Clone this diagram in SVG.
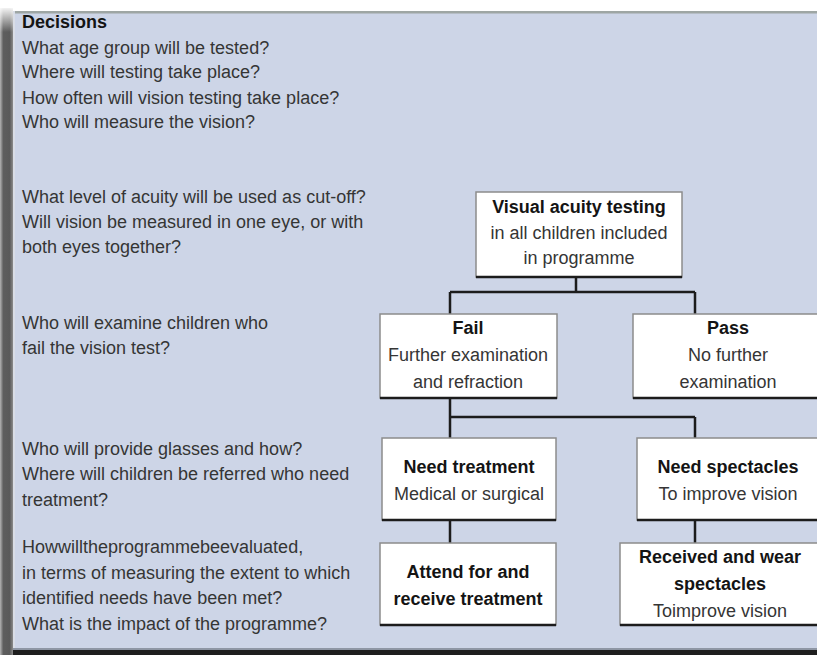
<svg xmlns="http://www.w3.org/2000/svg" width="817" height="655" viewBox="0 0 817 655">
<defs>
<linearGradient id="shadowH" x1="0" y1="0" x2="1" y2="0">
<stop offset="0" stop-color="#b5b5b5"/>
<stop offset="0.25" stop-color="#5e5e5e"/>
<stop offset="0.75" stop-color="#5a5a5a"/>
<stop offset="1" stop-color="#8c8c8c"/>
</linearGradient>
<linearGradient id="fadeTop" x1="0" y1="0" x2="0" y2="1">
<stop offset="0" stop-color="#ffffff" stop-opacity="1"/>
<stop offset="1" stop-color="#ffffff" stop-opacity="0"/>
</linearGradient>
</defs>
<style>
text{font-family:"Liberation Sans",Arial,sans-serif;font-size:18px;fill:#353535}
.b{font-weight:bold;fill:#141414}
.c{text-anchor:middle}
.box{fill:#ffffff;stroke:#8c8c8c;stroke-width:1.5}
.sh{stroke:#1c1c1c;stroke-width:2.5;fill:none}
.con{stroke:#1c1c1c;stroke-width:2.5;fill:none}
</style>
<rect width="817" height="655" fill="#ffffff"/>
<rect x="0" y="8" width="13" height="647" fill="url(#shadowH)"/>
<rect x="0" y="6" width="13" height="26" fill="url(#fadeTop)"/>
<rect x="13" y="11" width="810" height="641" fill="#cdd5e7"/>
<rect x="13" y="11" width="810" height="2.5" fill="#9ea6a4"/>
<rect x="13" y="11" width="2" height="641" fill="#d9dde6"/>
<rect x="13" y="648" width="810" height="2" fill="#8e96a4"/>
<rect x="13" y="650" width="810" height="5" fill="#1e1e1e"/>

<g id="decisions">
<text x="22" y="28" class="b">Decisions</text>
<text x="22" y="54">What age group will be tested?</text>
<text x="22" y="78">Where will testing take place?</text>
<text x="22" y="104">How often will vision testing take place?</text>
<text x="22" y="128">Who will measure the vision?</text>
<text x="22" y="203">What level of acuity will be used as cut-off?</text>
<text x="22" y="228">Will vision be measured in one eye, or with</text>
<text x="22" y="253">both eyes together?</text>
<text x="22" y="329">Who will examine children who</text>
<text x="22" y="354">fail the vision test?</text>
<text x="22" y="455">Who will provide glasses and how?</text>
<text x="22" y="480">Where will children be referred who need</text>
<text x="22" y="506">treatment?</text>
<text x="22" y="553">Howwilltheprogrammebeevaluated,</text>
<text x="22" y="579">in terms of measuring the extent to which</text>
<text x="22" y="604">identified needs have been met?</text>
<text x="22" y="630">What is the impact of the programme?</text>
</g>

<g id="connectors">
<path class="con" d="M576 277V292M450 292H695M450 292V314M695 292V314"/>
<path class="con" d="M450 398V438M450 417H695M695 417V438"/>
<path class="con" d="M450 520V543M695 520V543"/>
</g>

<g id="visual">
<rect class="box" x="476" y="192" width="206" height="85"/>
<path class="sh" d="M476 277H682"/>
<text x="579" y="213" class="b c">Visual acuity testing</text>
<text x="579" y="239" class="c">in all children included</text>
<text x="579" y="264" class="c">in programme</text>
</g>

<g id="fail">
<rect class="box" x="380" y="314" width="177" height="84"/>
<path class="sh" d="M380 398H557"/>
<text x="468" y="334" class="b c">Fail</text>
<text x="468" y="361" class="c">Further examination</text>
<text x="468" y="388" class="c">and refraction</text>
</g>

<g id="pass">
<rect class="box" x="633" y="314" width="192" height="84"/>
<path class="sh" d="M633 398H825"/>
<text x="728" y="334" class="b c">Pass</text>
<text x="728" y="361" class="c">No further</text>
<text x="728" y="388" class="c">examination</text>
</g>

<g id="needtreatment">
<rect class="box" x="382" y="438" width="174" height="82"/>
<path class="sh" d="M382 520H556"/>
<text x="469" y="473" class="b c">Need treatment</text>
<text x="469" y="500" class="c">Medical or surgical</text>
</g>

<g id="needspectacles">
<rect class="box" x="637" y="438" width="188" height="82"/>
<path class="sh" d="M637 520H825"/>
<text x="728" y="473" class="b c">Need spectacles</text>
<text x="728" y="500" class="c">To improve vision</text>
</g>

<g id="attend">
<rect class="box" x="380" y="543" width="176" height="82"/>
<path class="sh" d="M380 625H556"/>
<text x="468" y="578" class="b c">Attend for and</text>
<text x="468" y="605" class="b c">receive treatment</text>
</g>

<g id="received">
<rect class="box" x="620" y="543" width="205" height="82"/>
<path class="sh" d="M620 625H825"/>
<text x="720" y="563" class="b c">Received and wear</text>
<text x="720" y="590" class="b c">spectacles</text>
<text x="720" y="617" class="c">Toimprove vision</text>
</g>
</svg>
